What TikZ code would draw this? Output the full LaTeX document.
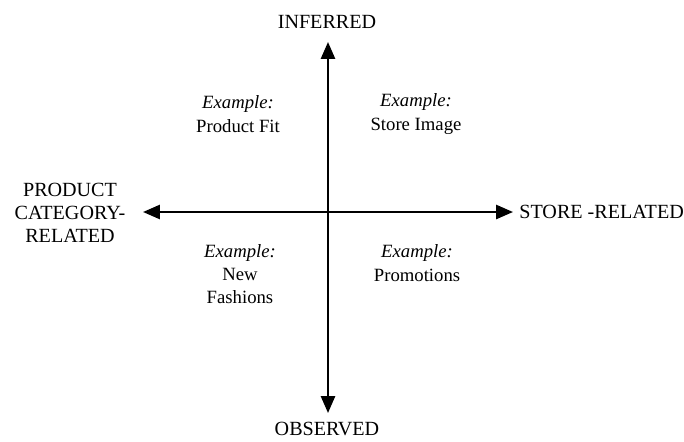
\documentclass[tikz,border=0pt]{standalone}
\usepackage{fontspec}
\setmainfont{Liberation Serif}
\usetikzlibrary{arrows.meta}

\tikzset{
    axis/.style={line width=1.6pt, -{Triangle[length=12pt, width=10pt]}},
    pole/.style={font=\fontsize{14.3}{16.5}\selectfont, align=center},
    quad/.style={font=\fontsize{13.3}{16.5}\selectfont, align=center}
}

\begin{document}
\begin{tikzpicture}[x=0.025cm, y=-0.025cm]
        \useasboundingbox (0,0) rectangle (684,441);
        \coordinate (c) at (328,212);
        \coordinate (up) at (328,42);
        \coordinate (down) at (328,413);
        \coordinate (left) at (143,212);
        \coordinate (right) at (513,212);

        % the two axes
        \draw[axis] (c) -- (up);
        \draw[axis] (c) -- (down);
        \draw[axis] (c) -- (left);
        \draw[axis] (c) -- (right);

        % ends of the axes
        \node[pole] (inferred) at (327,22) {INFERRED};
        \node[pole] (observed) at (327,429) {OBSERVED};
        \node[pole] (prodcat) at (70,213) {PRODUCT\\CATEGORY-\\RELATED};
        \node[pole, right=1pt] (storerel) at (right) {STORE -RELATED};

        % the four quadrants
        \node[quad] (fit) at (238,114) {\textit{Example:}\\Product Fit};
        \node[quad] (image) at (416,114) {\textit{Example:}\\Store Image};
        \node[quad] (fashion) at (240,274) {\textit{Example:}\\New\\Fashions};
        \node[quad] (promo) at (417,263) {\textit{Example:}\\Promotions};
\end{tikzpicture}
\end{document}
